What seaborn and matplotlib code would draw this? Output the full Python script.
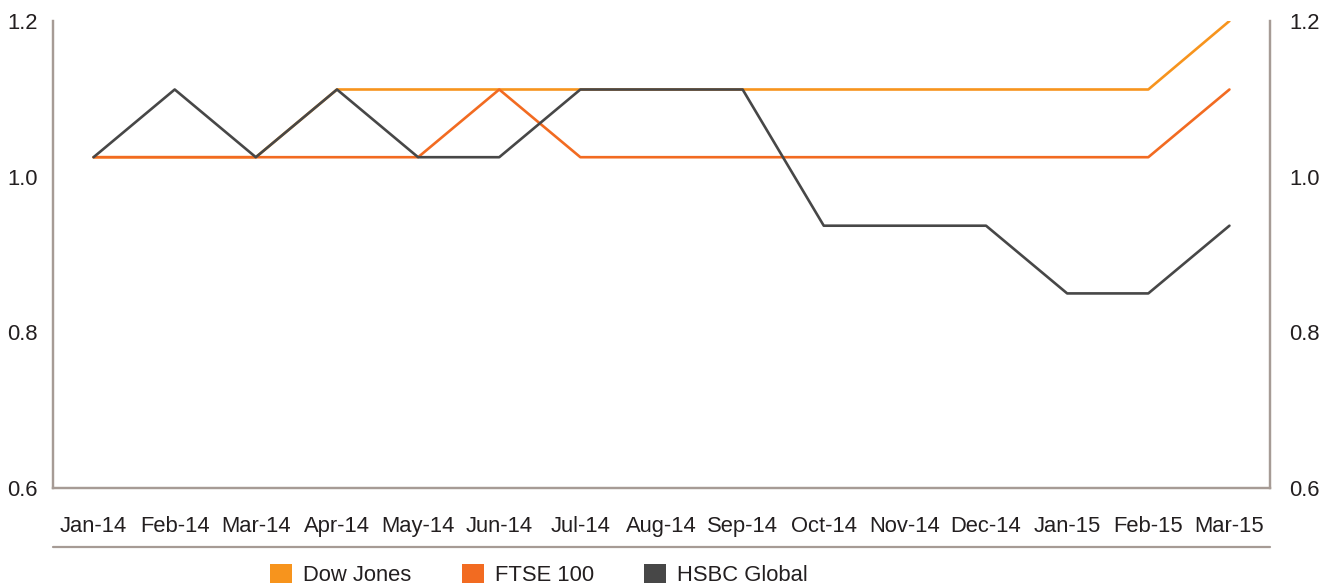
import pandas as pd
import matplotlib.pyplot as plt
import seaborn as sns
from matplotlib.patches import Patch
from matplotlib.lines import Line2D

# Data
months = ['Jan-14', 'Feb-14', 'Mar-14', 'Apr-14', 'May-14', 'Jun-14', 'Jul-14', 'Aug-14',
          'Sep-14', 'Oct-14', 'Nov-14', 'Dec-14', 'Jan-15', 'Feb-15', 'Mar-15']
dow_jones = [1.025, 1.025, 1.025, 1.112, 1.112, 1.112, 1.112, 1.112, 1.112, 1.112, 1.112, 1.112, 1.112, 1.112, 1.2]
ftse_100 = [1.025, 1.025, 1.025, 1.025, 1.025, 1.112, 1.025, 1.025, 1.025, 1.025, 1.025, 1.025, 1.025, 1.025, 1.112]
hsbc_global = [1.025, 1.112, 1.025, 1.112, 1.025, 1.025, 1.112, 1.112, 1.112, 0.937, 0.937, 0.937, 0.85, 0.85, 0.937]
y_ticks = [0.6, 0.8, 1.0, 1.2]

series = ['Dow Jones', 'FTSE 100', 'HSBC Global']
colors = {'Dow Jones': '#F7941D', 'FTSE 100': '#F26B21', 'HSBC Global': '#474747'}

df = pd.concat([
    pd.DataFrame({'month': months, 'value': vals, 'index': name})
    for name, vals in zip(series, [dow_jones, ftse_100, hsbc_global])
])

sns.set_theme(style="white")
plt.rcParams['font.family'] = ['Liberation Sans', 'DejaVu Sans']
spine_col = '#A69B95'
text_col = '#231F20'

fig = plt.figure(figsize=(13.28, 5.88), dpi=100)
ax = fig.add_axes([53 / 1328, 1 - 488 / 588, (1270 - 53) / 1328, (488 - 21) / 588])

sns.lineplot(data=df, x='month', y='value', hue='index', hue_order=series,
             palette=colors, sort=False, linewidth=1.9, legend=False, ax=ax)

ax.set_xlim(-0.5, len(months) - 0.5)
ax.set_ylim(0.6, 1.2)
ax.set_yticks(y_ticks)
ax.set_yticklabels([f'{t:.1f}' for t in y_ticks])
ax.set_xlabel('')
ax.set_ylabel('')
ax.tick_params(axis='both', length=0, labelsize=15.8, labelcolor=text_col)
ax.tick_params(axis='y', pad=11)
ax.tick_params(axis='x', pad=20)

ax2 = ax.twinx()
ax2.set_ylim(0.6, 1.2)
ax2.set_yticks(y_ticks)
ax2.set_yticklabels([f'{t:.1f}' for t in y_ticks])
ax2.tick_params(axis='y', length=0, labelsize=15.8, labelcolor=text_col, pad=14)

for a in (ax, ax2):
    a.spines['top'].set_visible(False)
    for s in ('left', 'right', 'bottom'):
        a.spines[s].set_color(spine_col)
        a.spines[s].set_linewidth(1.6)
    a.grid(False)

# rule under the month labels
fig.add_artist(Line2D([53 / 1328, 1270 / 1328], [1 - 547 / 588] * 2,
                      color=spine_col, linewidth=1.6, transform=fig.transFigure))

handles = [Patch(facecolor=colors[s], edgecolor='none', label=s) for s in series]
fig.legend(handles=handles, loc='center', bbox_to_anchor=(539 / 1328, 1 - 575 / 588),
           ncol=3, frameon=False, fontsize=15.8, handlelength=1.0, handleheight=1.0,
           handletextpad=0.5, columnspacing=2.3, labelcolor=text_col)

plt.savefig('out.png', dpi=100)
